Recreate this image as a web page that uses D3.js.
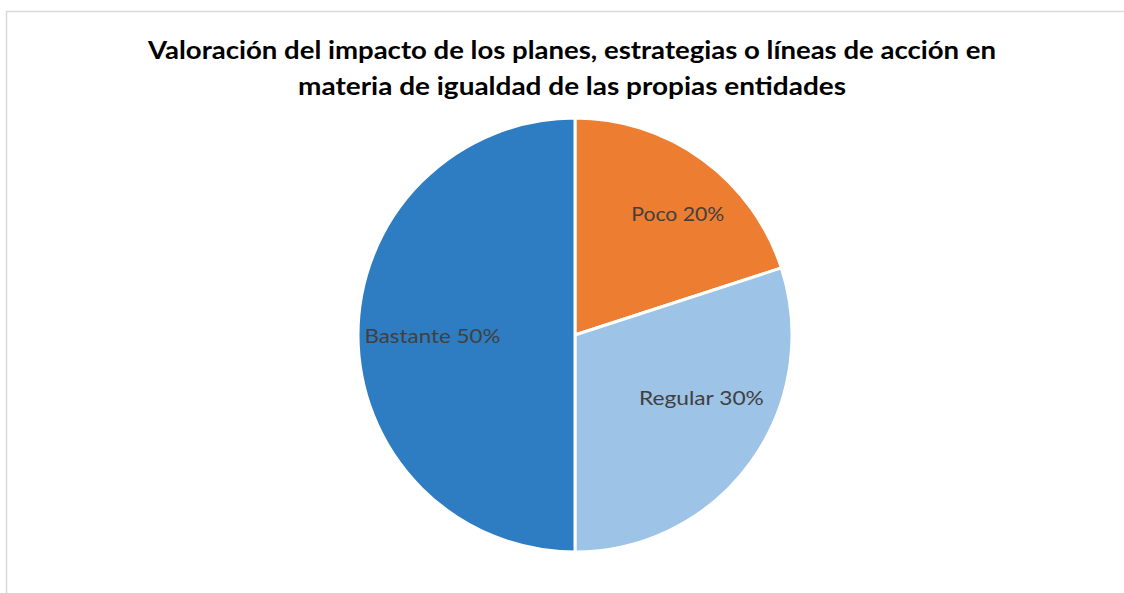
<!DOCTYPE html>
<html><head><meta charset="utf-8">
<script src="https://cdn.jsdelivr.net/npm/d3@7"></script>
<style>body{margin:0;background:#fff}svg{display:block}</style>
</head><body>
<svg id="chart" width="1124" height="593"></svg>
<script>
const categories = ["Poco", "Regular", "Bastante"];
const values = [20, 30, 50];
const colors = ["#ED7D31", "#9DC3E6", "#2E7DC3"];
const titleLines = ["Valoración del impacto de los planes, estrategias o líneas de acción en", "materia de igualdad de las propias entidades"];

const svg = d3.select("#chart");
svg.append("rect").attr("x", 6.5).attr("y", 11.5).attr("width", 1124).attr("height", 600)
  .attr("fill", "#fff").attr("stroke", "#d9d9d9").attr("stroke-width", 1.5);

svg.selectAll("text.title").data(titleLines).enter().append("text")
  .attr("class", "title")
  .attr("x", 572).attr("y", (d, i) => 59 + i * 36)
  .attr("text-anchor", "middle")
  .attr("font-family", "Lato, 'Open Sans', sans-serif")
  .attr("font-weight", "bold").attr("font-size", 24)
  .attr("fill", "#000")
  .attr("textLength", (d, i) => i === 0 ? 848 : 548)
  .attr("lengthAdjust", "spacingAndGlyphs")
  .text(d => d);

const cx = 575, cy = 335, r = 217;
const pie = d3.pie().sort(null).value(d => d.v);
const data = pie(categories.map((c, i) => ({c, v: values[i], col: colors[i]})));
const arc = d3.arc().innerRadius(0).outerRadius(r);
const g = svg.append("g").attr("transform", `translate(${cx},${cy})`);
g.selectAll("path").data(data).enter().append("path")
  .attr("d", arc).attr("fill", d => d.data.col)
  .attr("stroke", "#fff").attr("stroke-width", 3).attr("stroke-linejoin", "round");

const labelArc = d3.arc().innerRadius(r * 0.68).outerRadius(r * 0.68);
const nudge = [[16, -2], [7, -24], [5, 1]];
const widths = [93, 125, 136];
g.selectAll("text.lbl").data(data).enter().append("text")
  .attr("class", "lbl")
  .attr("transform", (d, i) => { const c = labelArc.centroid(d); return `translate(${c[0] + nudge[i][0]},${c[1] + nudge[i][1]})`; })
  .attr("text-anchor", "middle").attr("dy", "0.35em")
  .attr("font-family", "Lato, 'Open Sans', sans-serif").attr("font-size", 20)
  .attr("fill", "#404040")
  .attr("textLength", (d, i) => widths[i])
  .attr("lengthAdjust", "spacingAndGlyphs")
  .text(d => `${d.data.c} ${d.data.v}%`);
</script>
</body></html>
